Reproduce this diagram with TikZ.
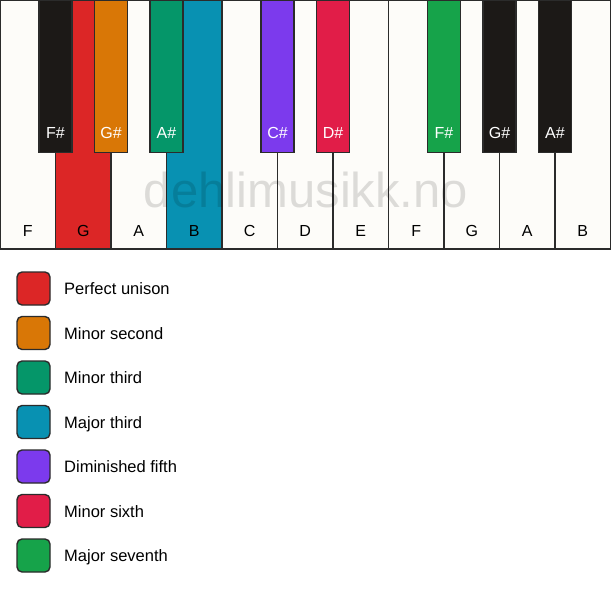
\documentclass[tikz,border=0pt]{standalone}
\usepackage{fontspec}
\setmainfont{Liberation Sans}
\begin{document}
\begin{tikzpicture}[x=1pt,y=-1pt]
\definecolor{kwhite}{HTML}{FDFCF9}
\definecolor{kblack}{HTML}{1C1917}
\definecolor{kline}{HTML}{2B2B2B}
\definecolor{cred}{HTML}{DC2626}
\definecolor{corange}{HTML}{D97706}
\definecolor{cemerald}{HTML}{059669}
\definecolor{ccyan}{HTML}{0891B2}
\definecolor{cviolet}{HTML}{7C3AED}
\definecolor{crose}{HTML}{E11D48}
\definecolor{cgreen}{HTML}{16A34A}
\tikzset{
  wkey/.style={draw=kline, line width=1.4pt, fill=kwhite, minimum width=55.5pt, minimum height=249pt, inner sep=0pt, outer sep=0pt},
  bkey/.style={draw=kline, line width=1.4pt, fill=kblack, minimum width=33.3pt, minimum height=152.5pt, inner sep=0pt, outer sep=0pt},
  wlabel/.style={font=\fontsize{16}{18}\selectfont, text=black, anchor=base, inner sep=0pt},
  blabel/.style={font=\fontsize{16}{18}\selectfont, text=white, anchor=base, inner sep=0pt},
  legbox/.style={draw=kline, line width=1.4pt, rounded corners=5pt, minimum width=33pt, minimum height=33pt, inner sep=0pt},
  legtext/.style={font=\fontsize{16.5}{19}\selectfont, anchor=base west, inner sep=0pt}
}
\useasboundingbox (0,0) rectangle (611,594);
\fill[white] (0,0) rectangle (611,594);
% white keys
\foreach \i/\n/\c in {0/F/kwhite,1/G/cred,2/A/kwhite,3/B/ccyan,4/C/kwhite,5/D/kwhite,6/E/kwhite,7/F/kwhite,8/G/kwhite,9/A/kwhite,10/B/kwhite}{
  \node[wkey, fill=\c] (w\i) at ({55.5*\i+27.75},124.5) {};
  \node[wlabel] (wl\i) at ({55.5*\i+27.75},236) {\n};
}
% black keys
\foreach \x/\n/\c in {1/F\#/kblack,2/G\#/corange,3/A\#/cemerald,5/C\#/cviolet,6/D\#/crose,8/F\#/cgreen,9/G\#/kblack,10/A\#/kblack}{
  \node[bkey, fill=\c] (b\x) at ({55.5*\x},76.25) {};
  \node[blabel] (bl\x) at ({55.5*\x},139) {\n};
}
% watermark
\node[font=\fontsize{49}{54}\selectfont, text=black, text opacity=0.13, anchor=base, inner sep=0pt] (wm) at (306,207) {dehlimusikk.no};
% legend
\foreach \k/\c/\t in {0/cred/Perfect unison,1/corange/Minor second,2/cemerald/Minor third,3/ccyan/Major third,4/cviolet/Diminished fifth,5/crose/Minor sixth,6/cgreen/Major seventh}{
  \node[legbox, fill=\c] (lb\k) at (33.5,{288.5+44.5*\k}) {};
  \node[legtext] (lt\k) at (64,{294.5+44.5*\k}) {\t};
}
\end{tikzpicture}
\end{document}
